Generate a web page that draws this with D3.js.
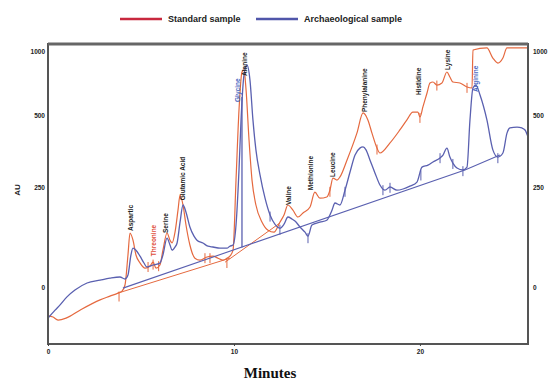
<!DOCTYPE html>
<html>
<head>
<meta charset="utf-8">
<script src="https://cdn.jsdelivr.net/npm/d3@7"></script>
<style>
  body { margin: 0; background: #fff; }
  svg { display: block; font-family: "Liberation Sans", Arial, sans-serif; }
</style>
</head>
<body>
<svg width="560" height="382"></svg>
<script>
// chromatogram traces, [minutes, response]
const standardSample = [
  [0, -76], [0.27, -79], [0.54, -87], [0.97, -82], [1.72, -61], [2.80, -34], [3.33, -24],
  [3.76, -16], [3.98, -11], [4.14, 5], [4.30, 80], [4.41, 135], [4.57, 117], [4.73, 80],
  [4.95, 60], [5.22, 47], [5.48, 52], [5.65, 62], [5.81, 47], [6.02, 55], [6.18, 92],
  [6.40, 135], [6.56, 117], [6.67, 110], [6.83, 137], [6.99, 192], [7.10, 230], [7.26, 205],
  [7.42, 155], [7.63, 105], [7.90, 72], [8.17, 67], [8.55, 75], [8.87, 77], [9.14, 72],
  [9.41, 67], [9.62, 72], [9.78, 77], [9.95, 92], [10.11, 274], [10.27, 539], [10.43, 836],
  [10.54, 852], [10.65, 695], [10.81, 413], [10.97, 274], [11.18, 205], [11.51, 162],
  [11.83, 142], [12.15, 137], [12.47, 162], [12.69, 180], [12.90, 205], [13.17, 192],
  [13.44, 175], [13.71, 185], [14.09, 200], [14.35, 237], [14.62, 222], [14.99, 225],
  [15.16, 242], [15.32, 281], [15.54, 274], [15.70, 285], [16.08, 344], [16.61, 437],
  [16.94, 516], [17.20, 483], [17.42, 437], [17.69, 385], [17.85, 368], [18.39, 403],
  [18.92, 448], [19.30, 483], [19.62, 523], [19.89, 523], [20.00, 493], [20.16, 563],
  [20.38, 672], [20.54, 750], [20.70, 758], [20.91, 734], [21.18, 750], [21.45, 836],
  [21.61, 797], [21.77, 758], [22.15, 750], [22.53, 719], [22.80, 711], [22.85, 1008],
  [23.60, 1024], [23.92, 945], [24.19, 906], [24.46, 945], [24.68, 1024], [25.81, 1024]
];

const archaeologicalSample = [
  [0, -82], [0.38, -61], [0.65, -47], [1.02, -26], [1.45, -8], [2.10, 10], [2.80, 17],
  [3.33, 22], [3.87, 25], [4.14, 20], [4.30, 30], [4.46, 80], [4.57, 97], [4.73, 92],
  [4.95, 77], [5.16, 60], [5.32, 50], [5.48, 52], [5.65, 55], [5.86, 57], [6.02, 60],
  [6.18, 80], [6.40, 122], [6.56, 105], [6.67, 92], [6.83, 100], [6.94, 110], [7.10, 162],
  [7.26, 205], [7.42, 187], [7.63, 150], [7.85, 127], [8.01, 117], [8.33, 110], [8.60, 102],
  [8.87, 100], [9.25, 97], [9.62, 97], [9.78, 102], [9.95, 105], [10.11, 155], [10.27, 309],
  [10.38, 483], [10.54, 813], [10.70, 891], [10.86, 773], [11.02, 483], [11.18, 379],
  [11.40, 292], [11.67, 222], [11.94, 180], [12.20, 157], [12.47, 147], [12.69, 157],
  [12.90, 175], [13.12, 170], [13.28, 165], [13.55, 150], [13.82, 137], [13.98, 127],
  [14.19, 155], [14.62, 162], [14.99, 167], [15.27, 192], [15.43, 210], [15.70, 205],
  [15.97, 242], [16.24, 302], [16.51, 361], [16.77, 385], [16.94, 389], [17.10, 379],
  [17.31, 344], [17.58, 299], [17.85, 257], [18.12, 242], [18.39, 250], [18.76, 242],
  [19.09, 245], [19.46, 253], [19.84, 267], [20.11, 319], [20.43, 326], [20.70, 337],
  [21.08, 351], [21.24, 361], [21.45, 385], [21.61, 354], [21.77, 333], [21.99, 316],
  [22.31, 309], [22.53, 319], [22.69, 483], [22.85, 711], [23.01, 734], [23.23, 656],
  [23.60, 483], [23.92, 379], [24.19, 354], [24.46, 368], [24.68, 437], [24.84, 455],
  [25.22, 458], [25.48, 455], [25.65, 448], [25.81, 424]
];

// straight integration baselines
const standardBaselines = [
  [[3.76, -16], [9.78, 72]],
  [[9.52, 62], [12.47, 160]]
];
const archaeologicalBaselines = [
  [[4.03, -3], [22.42, 309], [24.30, 361]]
];
const archaeologicalDrops = [[10.43, 99, 641]];

// small peak-integration marks [minutes, response]
const standardMarks = [[3.82, -25], [5.38, 50], [5.65, 56], [5.95, 52], [8.44, 72], [8.71, 72],
  [9.62, 60], [15.16, 238], [17.69, 380], [20.00, 490], [20.91, 730], [22.53, 712]];
const archaeologicalMarks = [[11.94, 176], [12.47, 143], [13.98, 122], [15.97, 238], [18.01, 242],
  [18.39, 248], [20.05, 290], [21.08, 350], [21.77, 330], [22.31, 305], [24.19, 350]];

// peak names
const peakNames = ["Aspartic", "Threonine", "Serine", "Glutamic Acid", "Glycine", "Alanine",
  "Valine", "Methionine", "Leucine", "Phenylalanine", "Histidine", "Lysine", "Arginine"];
const peakTimes = [4.46, 5.70, 6.34, 7.26, 10.22, 10.59, 12.96, 14.14, 15.32, 17.04, 19.95, 21.51, 23.01];
const peakLabelValues = [140, 77, 135, 217, 602, 805, 205, 242, 285, 523, 656, 852, 680];
const peakLabelColors = ["#222", "#e0503c", "#222", "#222", "#4a66c0", "#222", "#222", "#222",
  "#222", "#222", "#222", "#222", "#4a66c0"];

const xTicks = [0, 10, 20];
const yTicks = [0, 250, 500, 1000];
const legendNames = ["Standard sample", "Archaeological sample"];
const legendColors = ["#c8283e", "#5056aa"];
const traceColors = ["#e5693f", "#5a60b0"];

const svg = d3.select("svg");
const mLeft = 48, mRight = 528, mTop = 44, mBottom = 344;

const x = d3.scaleLinear().domain([0, 25.81]).range([mLeft, mRight]);
const y = d3.scaleLinear()
  .domain([-150, 0, 250, 500, 1000, 1055])
  .range([mBottom, 287, 187, 115, 51, mTop]);

const line = d3.line()
  .x(d => x(d[0]))
  .y(d => y(d[1]))
  .curve(d3.curveMonotoneX);
const straight = d3.line().x(d => x(d[0])).y(d => y(d[1]));

// legend
const legend = svg.append("g").attr("class", "legend");
const legendX = [120, 256];
legendNames.forEach((name, i) => {
  legend.append("line")
    .attr("x1", legendX[i]).attr("x2", legendX[i] + 42)
    .attr("y1", 19).attr("y2", 19)
    .attr("stroke", legendColors[i]).attr("stroke-width", 2.5);
  legend.append("text")
    .attr("x", legendX[i] + 48).attr("y", 22)
    .attr("font-size", 9).attr("font-weight", "bold").attr("fill", "#222")
    .text(name);
});

// baselines + traces
const plot = svg.append("g");
plot.selectAll(".sbase").data(standardBaselines).enter().append("path")
  .attr("d", straight).attr("fill", "none")
  .attr("stroke", traceColors[0]).attr("stroke-width", 1);
plot.append("path").datum(standardSample)
  .attr("d", line).attr("fill", "none")
  .attr("stroke", traceColors[0]).attr("stroke-width", 1.2);
plot.selectAll(".smark").data(standardMarks).enter().append("line")
  .attr("x1", d => x(d[0])).attr("x2", d => x(d[0]))
  .attr("y1", d => y(d[1]) - 5).attr("y2", d => y(d[1]) + 5)
  .attr("stroke", traceColors[0]).attr("stroke-width", 1);

plot.selectAll(".abase").data(archaeologicalBaselines).enter().append("path")
  .attr("d", straight).attr("fill", "none")
  .attr("stroke", traceColors[1]).attr("stroke-width", 1.1);
plot.selectAll(".adrop").data(archaeologicalDrops).enter().append("line")
  .attr("x1", d => x(d[0])).attr("x2", d => x(d[0]))
  .attr("y1", d => y(d[1])).attr("y2", d => y(d[2]))
  .attr("stroke", traceColors[1]).attr("stroke-width", 1.3);
plot.append("path").datum(archaeologicalSample)
  .attr("d", line).attr("fill", "none")
  .attr("stroke", traceColors[1]).attr("stroke-width", 1.3);
plot.selectAll(".amark").data(archaeologicalMarks).enter().append("line")
  .attr("x1", d => x(d[0])).attr("x2", d => x(d[0]))
  .attr("y1", d => y(d[1]) - 5).attr("y2", d => y(d[1]) + 5)
  .attr("stroke", traceColors[1]).attr("stroke-width", 1);

// frame
svg.append("rect")
  .attr("x", mLeft).attr("y", mTop).attr("width", mRight - mLeft).attr("height", mBottom - mTop)
  .attr("fill", "none").attr("stroke", "#555").attr("stroke-width", 2);
svg.append("line")
  .attr("x1", mLeft).attr("x2", mRight).attr("y1", mTop).attr("y2", mTop)
  .attr("stroke", "#666").attr("stroke-width", 3);

// axes
const axisStyle = g => {
  g.select(".domain").remove();
  g.selectAll("text").attr("font-size", 6.5).attr("font-weight", "bold").attr("fill", "#222")
    .attr("font-family", "Liberation Sans, Arial, sans-serif");
  g.selectAll("line").attr("stroke", "#444");
};
svg.append("g").attr("transform", `translate(0,${mBottom})`)
  .call(d3.axisBottom(x).tickValues(xTicks).tickSize(2).tickPadding(3).tickFormat(d3.format("d")))
  .call(axisStyle);
svg.append("g").attr("transform", `translate(${mLeft},0)`)
  .call(d3.axisLeft(y).tickValues(yTicks).tickSize(0).tickPadding(3).tickFormat(d3.format("d")))
  .call(axisStyle);
svg.append("g").attr("transform", `translate(${mRight},0)`)
  .call(d3.axisRight(y).tickValues(yTicks).tickSize(0).tickPadding(5).tickFormat(d3.format("d")))
  .call(axisStyle);

// peak labels
const labels = svg.append("g");
peakNames.forEach((name, i) => {
  labels.append("text")
    .attr("transform", `translate(${x(peakTimes[i])},${y(peakLabelValues[i])}) rotate(-90)`)
    .attr("dy", "0.35em")
    .attr("font-size", 6.5).attr("font-weight", "bold")
    .attr("fill", peakLabelColors[i])
    .text(name);
});

// axis titles
svg.append("text")
  .attr("transform", "translate(20,190) rotate(-90)")
  .attr("text-anchor", "middle")
  .attr("font-size", 8).attr("font-weight", "bold").attr("fill", "#222")
  .text("AU");
svg.append("text")
  .attr("x", 270).attr("y", 378)
  .attr("text-anchor", "middle")
  .attr("font-family", "Liberation Serif, Times New Roman, serif")
  .attr("font-size", 15).attr("font-weight", "bold").attr("fill", "#111")
  .text("Minutes");
</script>
</body>
</html>
